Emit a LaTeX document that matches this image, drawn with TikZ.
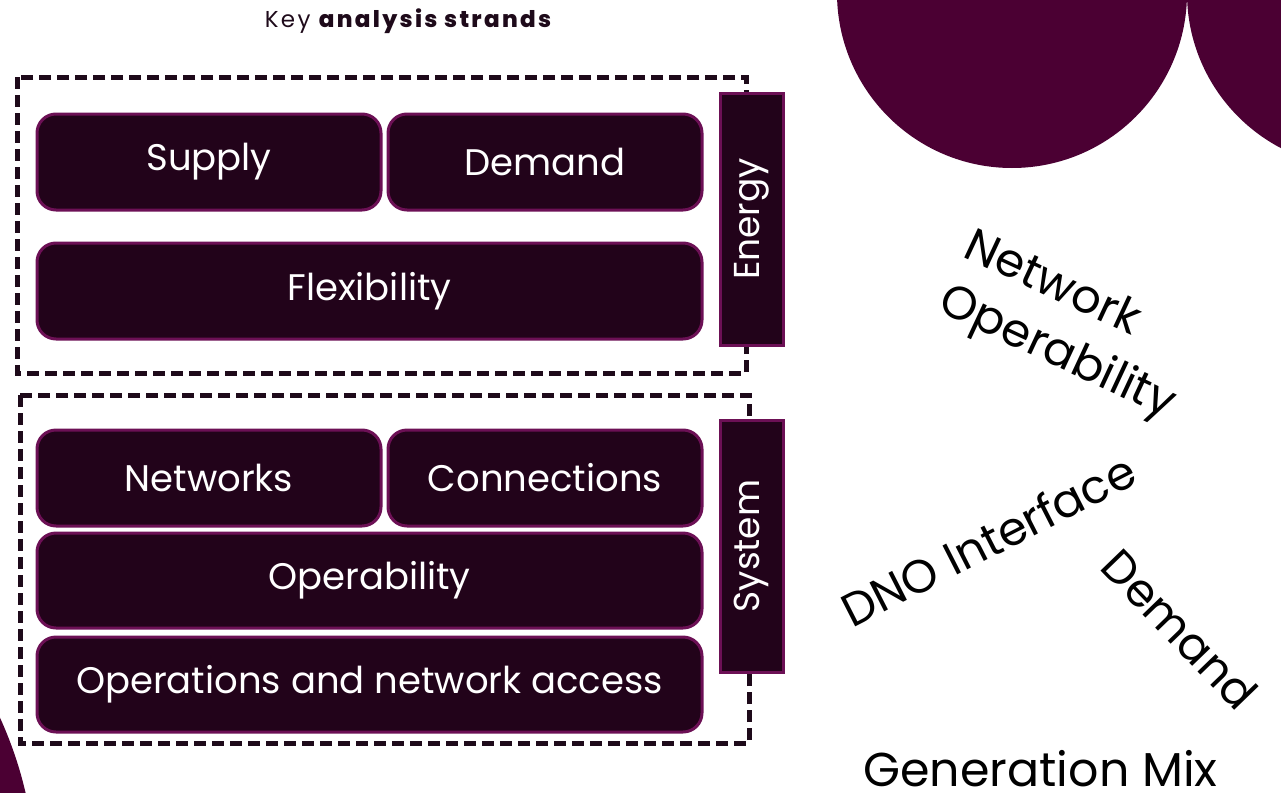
\documentclass[tikz,border=0pt]{standalone}
\usepackage{fontspec}
\setmainfont{Poppins}
\newfontfamily\titlefont{Poppins}[LetterSpace=10]
\newfontfamily\titleheavy{Poppins}[UprightFont=* ExtraBold, LetterSpace=10]
\definecolor{plum}{HTML}{4B0033}
\definecolor{tilefill}{HTML}{22031A}
\definecolor{tileedge}{HTML}{6C1055}
\definecolor{inkdark}{HTML}{1E0A1A}
\tikzset{
  tile/.style={draw=tileedge, line width=3pt, fill=tilefill, rounded corners=19pt,
    text=white, inner sep=0pt, minimum height=96pt,
    font=\fontsize{37}{40}\selectfont},
  sidebar/.style={draw=tileedge, line width=3pt, fill=tilefill,
    text=white, inner sep=0pt, minimum width=63pt, minimum height=252pt},
  sidelabel/.style={text=white, rotate=90, inner sep=0pt,
    font=\fontsize{36}{40}\selectfont},
  strandframe/.style={draw=inkdark, line width=5pt, dash pattern=on 12pt off 6pt},
  freeword/.style={text=black, inner sep=0pt}
}
\begin{document}
\begin{tikzpicture}[x=1pt, y=-1pt]
  \useasboundingbox (0,0) rectangle (1281,792);
  % decorative discs at the corners
  \fill[plum] (1012,-7) circle (175);
  \fill[plum] (1362,-7) circle (175);
  \fill[plum] (-365,884) circle (401);

  % heading
  \node[text=inkdark, inner sep=0pt, anchor=base, font=\fontsize{23}{25}\selectfont] (title) at (408,28)
    {\titlefont Key \titleheavy analysis strands};

  % dashed group frames
  \draw[strandframe] (17,77) rectangle (746,373);
  \draw[strandframe] (20,395) rectangle (749,743);

  % energy strands
  \node[tile, minimum width=344pt] (supply) at (209,162) {Supply};
  \node[tile, minimum width=314pt] (demand) at (545,162) {Demand};
  \node[tile, minimum width=665pt] (flex) at (369.5,291) {Flexibility};
  \node[sidebar] (energybar) at (751.5,219) {};
  \node[sidelabel] (energy) at (energybar.center) {Energy};

  % system strands
  \node[tile, minimum width=344pt] (networks) at (209,478) {Networks};
  \node[tile, minimum width=314pt] (connections) at (545,478) {Connections};
  \node[tile, minimum width=665pt, minimum height=95pt] (operability) at (369.5,580.5) {Operability};
  \node[tile, minimum width=665pt, minimum height=95pt] (access) at (369.5,684.5) {Operations and network access};
  \node[sidebar] (systembar) at (751.5,546) {};
  \node[sidelabel] (system) at (systembar.center) {System};

  % scattered topic words
  \node[freeword, align=left, rotate=-25, font=\fontsize{46.5}{60}\selectfont] (netop) at (1069,327)
    {Network\\Operability};
  \node[freeword, rotate=27, font=\fontsize{46.5}{50}\selectfont] (dno) at (988,540) {DNO Interface};
  \node[freeword, rotate=-46, font=\fontsize{46}{50}\selectfont] (dem) at (1180,629) {Demand};
  \node[freeword, anchor=base, font=\fontsize{47.5}{50}\selectfont] (genmix) at (1040.5,786) {Generation Mix};
\end{tikzpicture}
\end{document}
